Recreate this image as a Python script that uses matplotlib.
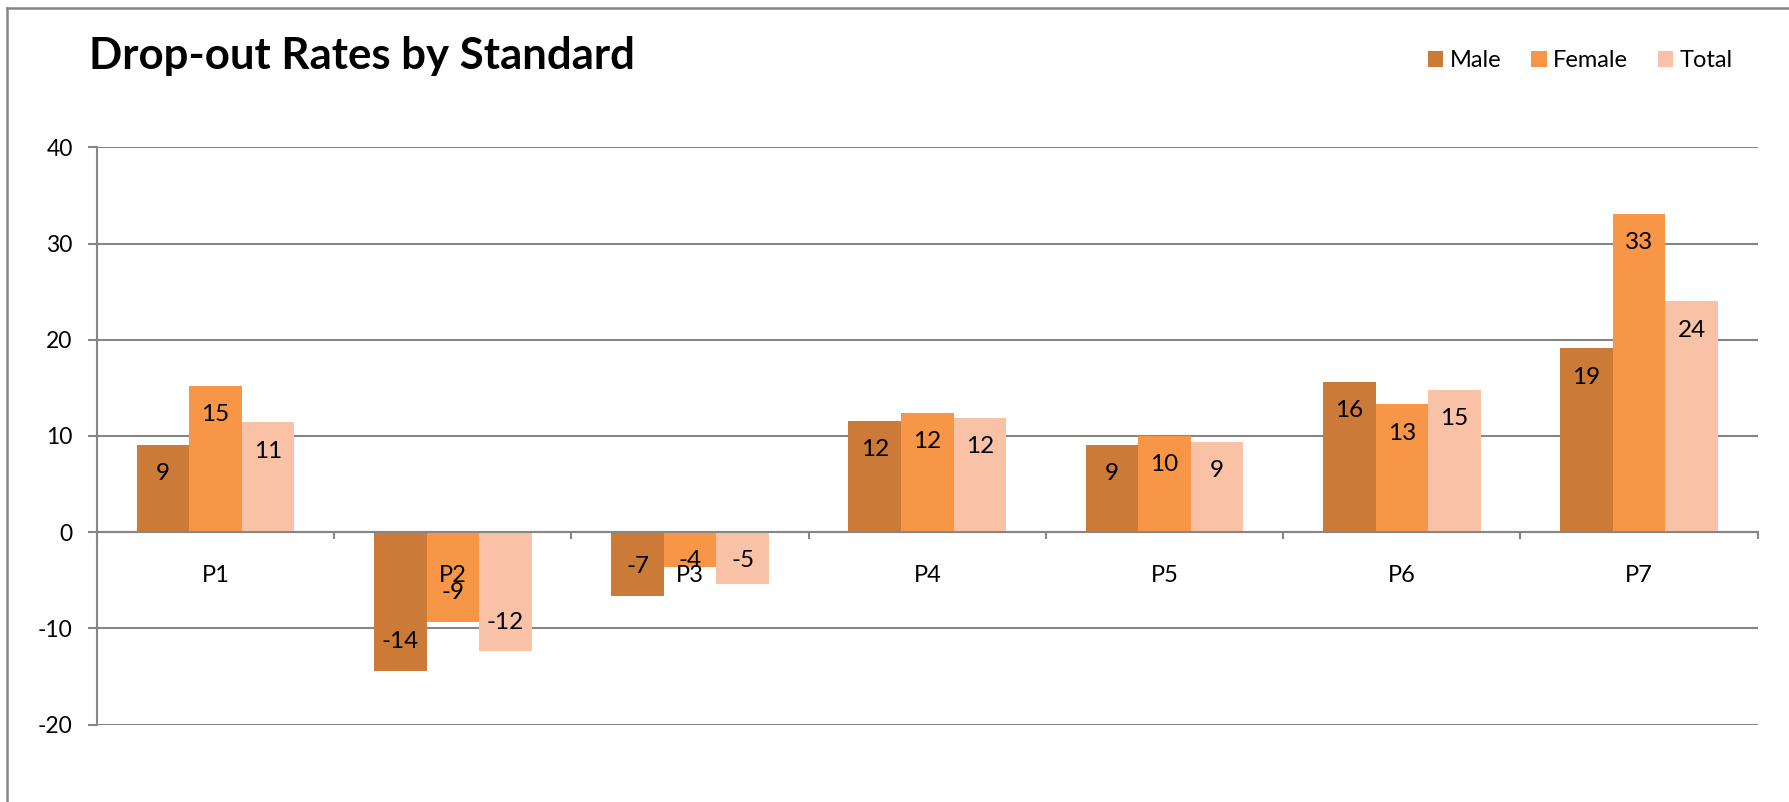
import matplotlib
matplotlib.use("Agg")
import matplotlib.pyplot as plt
from matplotlib.patches import Patch
from matplotlib.lines import Line2D
import numpy as np

categories = ["P1", "P2", "P3", "P4", "P5", "P6", "P7"]
male = [9.1, -14.4, -6.6, 11.6, 9.1, 15.6, 19.1]
female = [15.2, -9.3, -3.6, 12.4, 10.0, 13.3, 33.1]
total = [11.4, -12.4, -5.4, 11.9, 9.4, 14.8, 24.0]
series_names = ["Male", "Female", "Total"]
yticks = [-20, -10, 0, 10, 20, 30, 40]
title = "Drop-out Rates by Standard"

colors = ["#CC7A38", "#F79646", "#F9C2A7"]
grid_c = "#868686"

plt.rcParams["font.family"] = ["Lato", "DejaVu Sans"]

W, H = 1789, 802
fig = plt.figure(figsize=(W / 100, H / 100), dpi=100)
ax = fig.add_axes([97 / W, 1 - 724.5 / H, (1757.7 - 97) / W, (724.5 - 147.3) / H])

x = np.arange(len(categories))
bw = 0.2216
series = [male, female, total]
for i, (vals, c) in enumerate(zip(series, colors)):
    ax.bar(x + (i - 1) * bw, vals, width=bw, color=c, zorder=3, linewidth=0)
    for xi, v in zip(x, vals):
        s = np.sign(v)
        pos = v - s * 3.0
        if abs(pos) < 3.0 or np.sign(pos) != s:
            pos = s * 3.0
        ax.text(xi + (i - 1) * bw, pos, f"{v:.0f}", ha="center", va="center",
                fontsize=17.5, color="black", zorder=7)

ax.set_xlim(-0.5, len(categories) - 0.5)
ax.set_ylim(-20, 40)
ax.set_yticks(yticks)
ax.set_yticklabels([str(t) for t in yticks], fontsize=16.5)
ax.yaxis.grid(True, color=grid_c, linewidth=1.5, zorder=0)
ax.set_axisbelow(True)

for sp in ["top", "right"]:
    ax.spines[sp].set_visible(False)
ax.spines["left"].set_color(grid_c)
ax.spines["left"].set_linewidth(1.5)
ax.spines["bottom"].set_position(("data", 0))
ax.spines["bottom"].set_color(grid_c)
ax.spines["bottom"].set_linewidth(1.5)
ax.spines["bottom"].set_zorder(4)

ax.tick_params(axis="y", length=6.5, width=1.5, color=grid_c, pad=11, labelcolor="black")
ax.set_xticks(np.arange(len(categories) + 1) - 0.5)
ax.set_xticklabels([])
ax.tick_params(axis="x", which="major", length=5, width=1.5, color=grid_c, direction="out")
ax.set_xticks(x, minor=True)
ax.set_xticklabels(categories, minor=True, fontsize=17)
ax.tick_params(axis="x", which="minor", length=0, pad=23.5)
ax.xaxis.set_zorder(6)

fig.text(89 / W, 1 - 69 / H, title, fontsize=31.5, fontweight="bold",
         ha="left", va="baseline")

handles = [Patch(facecolor=c, edgecolor="none", label=n) for c, n in zip(colors, series_names)]
fig.legend(handles=handles, ncol=3, loc="center right",
           bbox_to_anchor=(1733 / W, 1 - 60.7 / H), frameon=False, fontsize=17,
           handlelength=0.64, handleheight=0.64, handletextpad=0.28,
           columnspacing=1.27, borderpad=0, borderaxespad=0)

fig.add_artist(Line2D([7 / W, 1], [1 - 8 / H, 1 - 8 / H], transform=fig.transFigure,
                      color=grid_c, linewidth=1.8))
fig.add_artist(Line2D([7 / W, 7 / W], [0, 1 - 8 / H], transform=fig.transFigure,
                      color=grid_c, linewidth=1.8))

fig.savefig("out.png", dpi=100, facecolor="white")
